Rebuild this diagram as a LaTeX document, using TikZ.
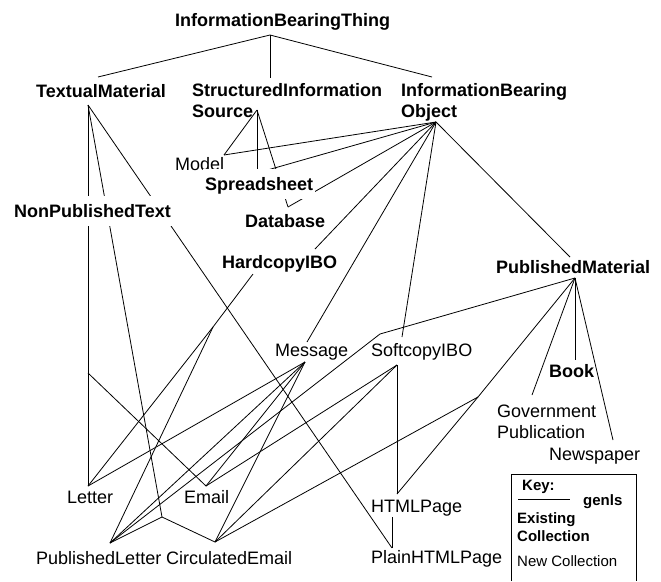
\documentclass[tikz,border=0pt]{standalone}
\usepackage{fontspec}
\setmainfont{Liberation Sans}
\begin{document}
\begin{tikzpicture}[x=1pt,y=-1pt,
  lbl/.style={anchor=base west, inner sep=0pt, align=left, font=\fontsize{18}{21}\selectfont},
  blbl/.style={lbl, font=\fontsize{18}{21}\selectfont\bfseries},
  cover/.style={fill=white, inner xsep=2pt, inner ysep=3pt, text height=18pt, text depth=6pt},
  keytxt/.style={anchor=base west, inner sep=0pt, align=left, font=\fontsize{15}{18}\selectfont},
  bkeytxt/.style={keytxt, font=\fontsize{15}{18}\selectfont\bfseries},
  link/.style={line width=0.8pt, black},
  keybox/.style={line width=0.8pt, black}]
\useasboundingbox (0,0) rectangle (661,581);

% attachment points
\coordinate (ibt-b) at (270,35);
\coordinate (tm-t) at (98,77);
\coordinate (sis-t) at (270,78);
\coordinate (ibo-t) at (432,77);
\coordinate (tm-b) at (88,105);
\coordinate (sis-b) at (257,110);
\coordinate (ibo-b) at (436,122);
\coordinate (model-a) at (224,155);
\coordinate (sheet-a) at (257,173);
\coordinate (db-a) at (288,207);
\coordinate (hc-t) at (315,249);
\coordinate (hc-b) at (253,274);
\coordinate (hc-j) at (213,327);
\coordinate (msg-t) at (307,342);
\coordinate (msg-b) at (305,362);
\coordinate (sc-t) at (402,337);
\coordinate (sc-b) at (397,365);
\coordinate (pm-t) at (570,257);
\coordinate (pm-b) at (575,278);
\coordinate (pm-j) at (380,334);
\coordinate (pm-q) at (478,397);
\coordinate (book-t) at (575,360);
\coordinate (gov-t) at (532,395);
\coordinate (news-t) at (613,440);
\coordinate (letter-t) at (88,486);
\coordinate (email-t) at (206,486);
\coordinate (tm-j1) at (88,373);
\coordinate (tm-j2) at (162,517);
\coordinate (pl-t) at (110,543);
\coordinate (ce-t) at (215,542);
\coordinate (html-t) at (397,494);
\coordinate (html-b) at (392,517);
\coordinate (plain-t) at (392,548);

% connectors
\draw[link] (ibt-b) -- (tm-t);
\draw[link] (ibt-b) -- (sis-t);
\draw[link] (ibt-b) -- (ibo-t);
\draw[link] (tm-b) -- (letter-t);
\draw[link] (tm-b) -- (tm-j2);
\draw[link] (tm-j2) -- (pl-t);
\draw[link] (tm-j2) -- (ce-t);
\draw[link] (tm-b) -- (plain-t);
\draw[link] (tm-j1) -- (email-t);
\draw[link] (sis-b) -- (model-a);
\draw[link] (sis-b) -- (sheet-a);
\draw[link] (sis-b) -- (db-a);
\draw[link] (ibo-b) -- (model-a);
\draw[link] (ibo-b) -- (sheet-a);
\draw[link] (ibo-b) -- (db-a);
\draw[link] (ibo-b) -- (hc-t);
\draw[link] (ibo-b) -- (msg-t);
\draw[link] (ibo-b) -- (sc-t);
\draw[link] (ibo-b) -- (pm-t);
\draw[link] (hc-b) -- (hc-j);
\draw[link] (hc-j) -- (letter-t);
\draw[link] (hc-j) -- (pl-t);
\draw[link] (msg-b) -- (letter-t);
\draw[link] (msg-b) -- (pl-t);
\draw[link] (msg-b) -- (email-t);
\draw[link] (msg-b) -- (ce-t);
\draw[link] (sc-b) -- (html-t);
\draw[link] (sc-b) -- (email-t);
\draw[link] (sc-b) -- (ce-t);
\draw[link] (pm-b) -- (pm-j) -- (pl-t);
\draw[link] (pm-b) -- (pm-q);
\draw[link] (pm-q) -- (html-t);
\draw[link] (pm-q) -- (ce-t);
\draw[link] (pm-b) -- (book-t);
\draw[link] (pm-b) -- (gov-t);
\draw[link] (pm-b) -- (news-t);
\draw[link] (html-b) -- (plain-t);

% labels (multi-line nodes: base = baseline of last line)
\node[blbl] (ibt) at (175,26) {InformationBearingThing};
\node[blbl] (tm) at (36,97) {TextualMaterial};
\node[blbl] (sis) at (192,117) {StructuredInformation\\Source};
\node[blbl] (ibo) at (401,117) {InformationBearing\\Object};
\node[lbl] (model) at (175,170) {Model};
\node[blbl,cover] (sheet) at (203,190) {Spreadsheet};
\node[blbl,cover] (npt) at (12,217) {NonPublishedText};
\node[blbl] (db) at (245,227) {Database};
\node[blbl] (hc) at (222,268) {HardcopyIBO};
\node[blbl] (pm) at (496,273) {PublishedMaterial};
\node[lbl] (msg) at (275,356) {Message};
\node[lbl] (sc) at (371,356) {SoftcopyIBO};
\node[blbl] (book) at (549,377) {Book};
\node[lbl] (gov) at (497,438) {Government\\Publication};
\node[lbl] (news) at (549,460) {Newspaper};
\node[lbl] (letter) at (67,503) {Letter};
\node[lbl] (email) at (184,503) {Email};
\node[lbl] (pl) at (36,564) {PublishedLetter};
\node[lbl] (ce) at (166,564) {CirculatedEmail};
\node[lbl] (html) at (371,512) {HTMLPage};
\node[lbl] (plain) at (371,563) {PlainHTMLPage};

% key
\coordinate (kb-bl) at (511,581);
\coordinate (kb-tl) at (511,474);
\coordinate (kb-tr) at (636,474);
\coordinate (kb-br) at (636,581);
\draw[keybox] (kb-bl) -- (kb-tl) -- (kb-tr) -- (kb-br);
\node[bkeytxt] (key) at (522,490) {Key:};
\coordinate (ks-a) at (518,499);
\coordinate (ks-b) at (570,499);
\draw[link] (ks-a) -- (ks-b);
\node[bkeytxt] (genls) at (583,505) {genls};
\node[bkeytxt] (exist) at (517,541) {Existing\\Collection};
\node[keytxt] (newc) at (517,566) {New Collection};
\end{tikzpicture}
\end{document}
